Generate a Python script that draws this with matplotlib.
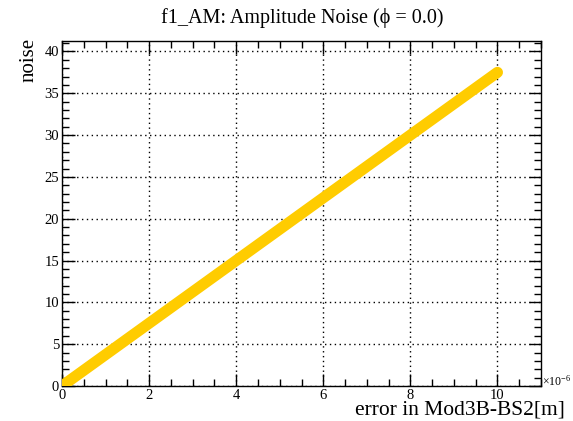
import numpy as np
import matplotlib.pyplot as plt
from matplotlib.ticker import MultipleLocator

# error in units of 1e-6 m, noise values
error = [0, 1, 2, 3, 4, 5, 6, 7, 8, 9, 10]
noise = [0, 3.75, 7.5, 11.25, 15.0, 18.75, 22.5, 26.25, 30.0, 33.75, 37.5]

plt.rcParams['font.family'] = ['Liberation Serif', 'DejaVu Serif']
plt.rcParams['mathtext.fontset'] = 'custom'
plt.rcParams['mathtext.rm'] = 'Liberation Serif'

W, H = 573, 421
fig = plt.figure(figsize=(W / 100, H / 100), dpi=100)
ax = fig.add_axes([62 / W, 1 - 386 / H, (541 - 62) / W, (386 - 41) / H])

ax.plot(error, noise, color='#ffcc00', lw=8, solid_capstyle='round', zorder=3)

ax.set_xlim(0, 11)
ax.set_ylim(0, 41.25)
ax.xaxis.set_major_locator(MultipleLocator(2))
ax.xaxis.set_minor_locator(MultipleLocator(0.5))
ax.yaxis.set_major_locator(MultipleLocator(5))
ax.yaxis.set_minor_locator(MultipleLocator(1))
ax.tick_params(which='both', direction='in', top=True, right=True,
               labelsize=10.5, width=1, pad=2)
ax.tick_params(which='major', length=9)
ax.tick_params(which='minor', length=5)
ax.grid(True, which='major', color='k', ls=(0, (1, 2.5)), lw=1)
for s in ax.spines.values():
    s.set_linewidth(1)

fig.text(302 / W, 1 - 18 / H, 'f1_AM: Amplitude Noise (\u03d5 = 0.0)',
         ha='center', va='center', fontsize=14.5)
fig.text(29 / W, 1 - 38 / H, 'noise', rotation=90, ha='center', va='top',
         fontsize=15)
fig.text(565 / W, 1 - 410 / H, 'error in Mod3B-BS2[m]', ha='right',
         va='center', fontsize=15.5)
fig.text(542 / W, 1 - 381 / H, r'$\mathrm{\times10^{-6}}$', ha='left',
         va='center', fontsize=8.5)

plt.savefig('out.png', dpi=100)
